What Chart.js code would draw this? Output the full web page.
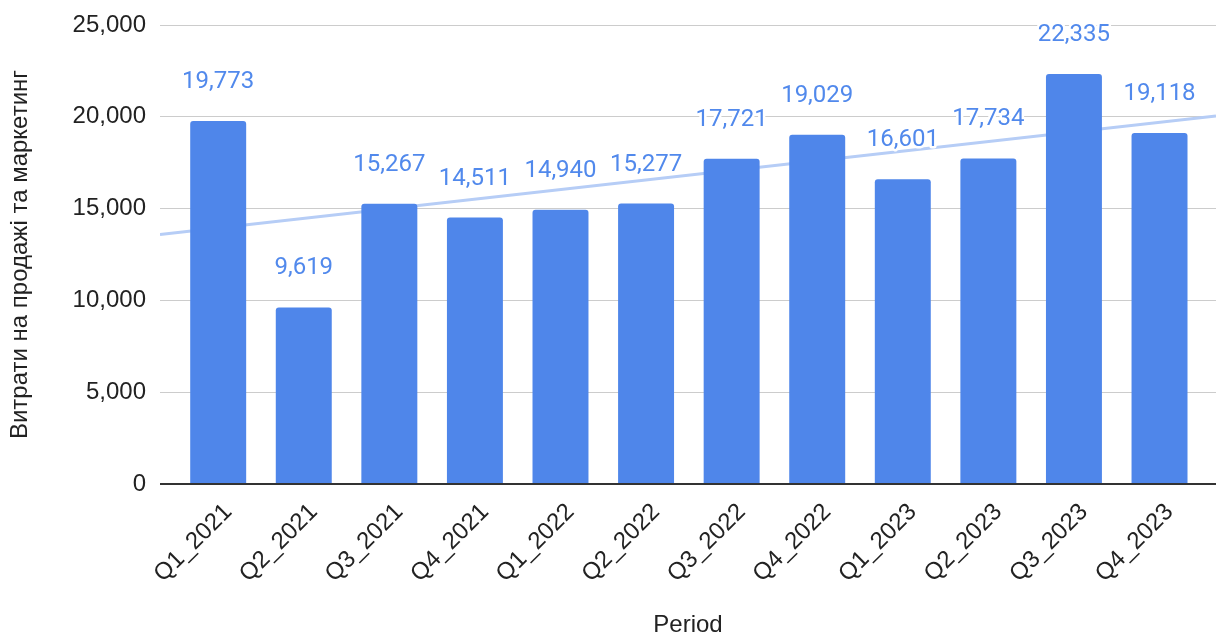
<!DOCTYPE html>
<html>
<head>
<meta charset="utf-8">
<script src="https://cdn.jsdelivr.net/npm/chart.js@4"></script>
<style>
  html, body { margin: 0; padding: 0; background: #fff; }
  #wrap { width: 1216px; height: 634px; }
</style>
</head>
<body>
<div id="wrap"><canvas id="c" width="1216" height="634"></canvas></div>
<script>
// Quarterly sales & marketing spend
const periods = ['Q1_2021', 'Q2_2021', 'Q3_2021', 'Q4_2021', 'Q1_2022', 'Q2_2022',
                 'Q3_2022', 'Q4_2022', 'Q1_2023', 'Q2_2023', 'Q3_2023', 'Q4_2023'];
const spend = [19773, 9619, 15267, 14511, 14940, 15277, 17721, 19029, 16601, 17734, 22335, 19118];
const yTicks = [0, 5000, 10000, 15000, 20000, 25000];

const X_MIN = -0.68, X_MAX = 11.66;

// Least-squares trend line over the quarter index
function linearFit(ys) {
  const n = ys.length;
  const mx = (n - 1) / 2;
  const my = ys.reduce((a, b) => a + b, 0) / n;
  let sxy = 0, sxx = 0;
  ys.forEach((y, i) => { sxy += (i - mx) * (y - my); sxx += (i - mx) * (i - mx); });
  const slope = sxy / sxx;
  return x => my + slope * (x - mx);
}
const trend = linearFit(spend);

const fmt = v => v.toLocaleString('en-US');
const BAR = '#4F86EA';
const FONT = 'Liberation Sans';

const valueLabels = {
  id: 'valueLabels',
  afterDatasetsDraw(chart) {
    const ctx = chart.ctx;
    const meta = chart.getDatasetMeta(0);
    ctx.save();
    ctx.font = '24px Roboto';
    ctx.textAlign = 'center';
    ctx.textBaseline = 'middle';
    ctx.lineJoin = 'round';
    meta.data.forEach((bar, i) => {
      const t = fmt(spend[i]);
      const y = bar.y - 39;
      ctx.strokeStyle = '#fff';
      ctx.lineWidth = 5;
      ctx.strokeText(t, bar.x, y);
      ctx.fillStyle = '#5189EC';
      ctx.fillText(t, bar.x, y);
    });
    // baseline
    const y0 = chart.scales.y.getPixelForValue(0);
    ctx.strokeStyle = '#333';
    ctx.lineWidth = 2;
    ctx.beginPath();
    ctx.moveTo(chart.chartArea.left, y0);
    ctx.lineTo(chart.chartArea.right, y0);
    ctx.stroke();
    ctx.restore();
  }
};

new Chart(document.getElementById('c'), {
  data: {
    datasets: [
      {
        type: 'bar',
        data: periods.map((p, i) => ({ x: i, y: spend[i] })),
        backgroundColor: BAR,
        borderRadius: 3,
        borderSkipped: 'start',
        barPercentage: 0.654,
        categoryPercentage: 1,
        order: 1
      },
      {
        type: 'line',
        data: [{ x: X_MIN, y: trend(X_MIN) }, { x: X_MAX, y: trend(X_MAX) }],
        borderColor: '#B6CDF6',
        borderWidth: 3,
        pointRadius: 0,
        fill: false,
        order: 2
      }
    ]
  },
  options: {
    responsive: false,
    animation: false,
    layout: { padding: { top: 25, right: 0, bottom: 0, left: 0 } },
    plugins: { legend: { display: false }, tooltip: { enabled: false } },
    scales: {
      x: {
        type: 'linear',
        offset: false,
        min: X_MIN,
        max: X_MAX,
        afterBuildTicks: s => { s.ticks = periods.map((p, i) => ({ value: i })); },
        afterFit: s => { s.height = 150; s.paddingLeft = 0; s.paddingRight = 0; },
        grid: { display: false },
        border: { display: false },
        ticks: {
          autoSkip: false,
          minRotation: 45,
          maxRotation: 45,
          labelOffset: 10,
          padding: 6,
          color: '#222',
          font: { family: FONT, size: 24 },
          callback: v => periods[v]
        },
        title: {
          display: true,
          text: 'Period',
          color: '#222',
          font: { family: FONT, size: 24 },
          padding: { top: 0, bottom: -6 }
        }
      },
      y: {
        min: 0,
        max: 25000,
        afterBuildTicks: s => { s.ticks = yTicks.map(v => ({ value: v })); },
        afterFit: s => { s.width = 160; s.paddingTop = 0; s.paddingBottom = 0; },
        border: { display: false },
        grid: { color: '#CCCCCC', lineWidth: 1, drawTicks: false },
        ticks: {
          padding: 14,
          color: '#222',
          font: { family: FONT, size: 24 },
          callback: v => fmt(v)
        },
        title: {
          display: true,
          text: 'Витрати на продажі та маркетинг',
          color: '#222',
          font: { family: FONT, size: 24 },
          padding: { top: 6, bottom: 0 }
        }
      }
    }
  },
  plugins: [valueLabels]
});
</script>
</body>
</html>
